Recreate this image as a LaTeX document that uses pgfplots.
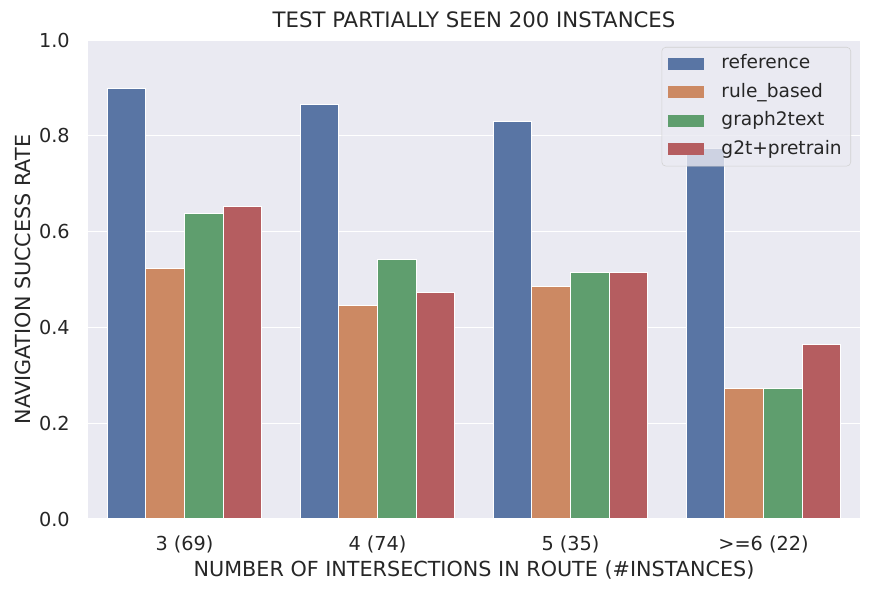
\documentclass[border=0pt]{standalone}
\usepackage{fontspec}
\setmainfont{DejaVu Sans}
\usepackage{pgfplots}
\pgfplotsset{compat=1.18}
\definecolor{bgc}{HTML}{EAEAF2}
\definecolor{cref}{HTML}{5975A4}
\definecolor{crule}{HTML}{CC8963}
\definecolor{cg2t}{HTML}{5F9E6E}
\definecolor{cpre}{HTML}{B55D60}
\begin{document}
\begin{tikzpicture}
\begin{axis}[
  scale only axis,
  width=579bp, height=359.25bp,
  xmin=-0.5, xmax=3.5, ymin=0, ymax=1,
  axis background/.style={fill=bgc},
  axis line style={draw=none},
  ytick={0,0.2,0.4,0.6,0.8,1.0},
  xtick={0,1,2,3},
  xticklabels={3 (69),4 (74),5 (35),>=6 (22)},
  ymajorgrids, grid style={white, line width=1bp},
  major tick length=0pt,
  /pgf/number format/assume math mode=true,
  tick label style={font=\fontsize{14.5}{17}\selectfont, text=black!85, inner sep=0pt},
  yticklabel style={anchor=east, xshift=-13.5bp, /pgf/number format/.cd,fixed,fixed zerofill,precision=1},
  xticklabel style={anchor=center, yshift=-18.75bp},
  label style={font=\fontsize{15.6}{18}\selectfont, text=black!85, inner sep=0pt},
  title style={font=\fontsize{16}{19}\selectfont, text=black!85, inner sep=0pt, at={(axis description cs:0.5,1)}, anchor=center, yshift=9bp},
  title={TEST PARTIALLY SEEN 200 INSTANCES},
  xlabel={NUMBER OF INTERSECTIONS IN ROUTE (\#INSTANCES)},
  ylabel={NAVIGATION SUCCESS RATE},
  xlabel style={at={(axis description cs:0.5,0)}, anchor=center, yshift=-38bp},
  ylabel style={at={(axis description cs:0,0.5)}, anchor=center, yshift=49bp},
  bar width=0.2,
  legend style={at={(axis description cs:1,1)}, anchor=north east, xshift=-6.75bp, yshift=-5.25bp,
    fill=bgc, fill opacity=0.8, text opacity=1, draw=black!18, rounded corners=3bp,
    font=\fontsize{14}{17}\selectfont, text=black!85,
    row sep=3.9bp, inner xsep=4.75bp, inner ysep=3.7bp,
    nodes={text height=10.5bp, text depth=3bp, inner sep=2bp},
    /tikz/every odd column/.append style={column sep=11bp}},
  legend image code/.code={\draw[#1, draw=none, sharp corners, fill opacity=1] (0bp,-4.5bp) rectangle (27bp,4.5bp);},
  legend cell align=left,
]
\addplot[ybar, bar shift=-0.3, fill=cref, draw=white, line width=0.8bp] coordinates {(0,0.899) (1,0.865) (2,0.829) (3,0.773)};
\addplot[ybar, bar shift=-0.1, fill=crule, draw=white, line width=0.8bp] coordinates {(0,0.522) (1,0.446) (2,0.486) (3,0.273)};
\addplot[ybar, bar shift=0.1, fill=cg2t, draw=white, line width=0.8bp] coordinates {(0,0.638) (1,0.541) (2,0.514) (3,0.273)};
\addplot[ybar, bar shift=0.3, fill=cpre, draw=white, line width=0.8bp] coordinates {(0,0.652) (1,0.473) (2,0.514) (3,0.364)};
\legend{reference, rule\_based, graph2text, g2t+pretrain}
\end{axis}
\pgfresetboundingbox
\path ([xshift=-66bp,yshift=-56.25bp]current axis.south west) rectangle ([xshift=9.75bp,yshift=30bp]current axis.north east);
\end{tikzpicture}
\end{document}
